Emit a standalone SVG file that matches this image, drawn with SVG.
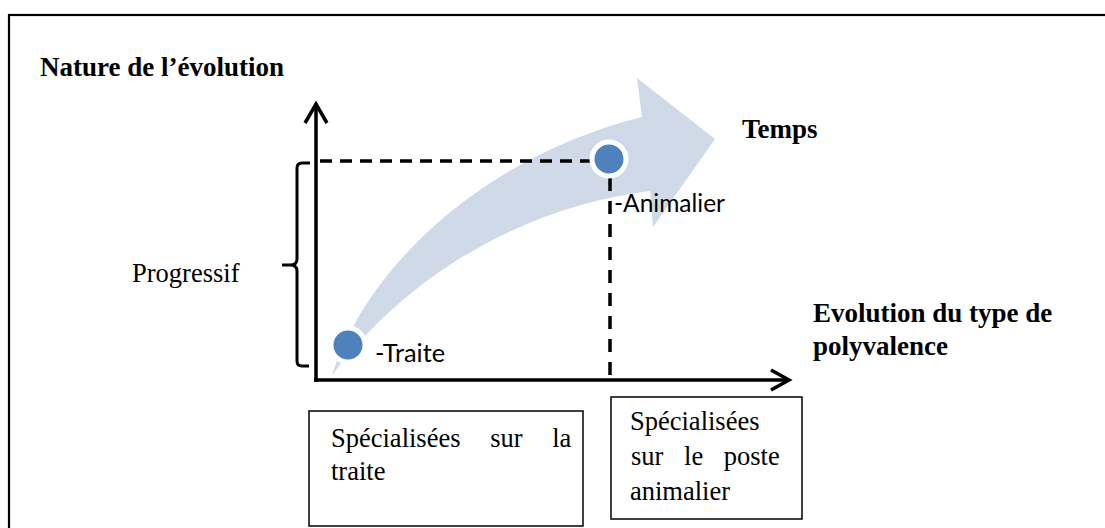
<svg xmlns="http://www.w3.org/2000/svg" width="1105" height="528" viewBox="0 0 1105 528">
<style>
.serif{font-family:"Liberation Serif","Times New Roman",serif;font-size:26.5px;fill:#000}
.bold{font-weight:bold;font-size:27px}
.sans{font-family:Lato,"Open Sans",sans-serif;font-size:25px;fill:#000}
.axis{stroke:#000;stroke-width:3.5;fill:none}
.dash{stroke:#000;stroke-width:3.5;fill:none}
.box{fill:#fff;stroke:#000;stroke-width:1.5}
.dot{fill:#4F81BD;stroke:#fff;stroke-width:5}
</style>
<rect x="0" y="0" width="1105" height="528" fill="#fff"/>
<rect id="frame" x="9" y="15" width="1120" height="560" fill="none" stroke="#000" stroke-width="2.2"/>
<g id="trend-arrow">
<path d="M332 375 C370 260 490 155 642 117 L637 78 L715 139 L653 227 L650 191 C540 205 420 260 332 375 Z" fill="#D0D9E8"/>
</g>
<g id="connectors">
<path class="axis" d="M316 382 L316 105"/>
<path class="axis" d="M305 123 L316 104 L327 123"/>
<path class="axis" d="M314 380 L788 380"/>
<path class="axis" d="M771 370 L789 380 L771 390"/>
<path class="dash" d="M320 161 L592 161" stroke-dasharray="12 8"/>
<path class="dash" d="M610 178 L610 380" stroke-dasharray="13 10"/>
<path d="M310 163 L302 163 Q297 163 297 168 L297 259 Q297 265 290 265 L282 265 M290 265 Q297 265 297 271 L297 361 Q297 366 302 366 L309 366" fill="none" stroke="#000" stroke-width="3"/>
</g>
<g id="axis-y-label"><text class="serif bold" x="40" y="76">Nature de l’évolution</text></g>
<g id="temps-label"><text class="serif bold" x="742" y="138">Temps</text></g>
<g id="axis-x-label">
<text class="serif bold" x="813" y="322">Evolution du type de</text>
<text class="serif bold" x="813" y="355">polyvalence</text>
</g>
<g id="progressif"><text class="serif" x="132" y="282">Progressif</text></g>
<g id="point-traite">
<circle class="dot" cx="348" cy="345" r="17"/>
<text class="sans" x="375" y="362" textLength="70" lengthAdjust="spacingAndGlyphs">-Traite</text>
</g>
<g id="point-animalier">
<circle class="dot" cx="609" cy="159" r="17"/>
<text class="sans" x="614" y="212" textLength="111" lengthAdjust="spacingAndGlyphs">-Animalier</text>
</g>
<g id="box-traite">
<rect class="box" x="309" y="411" width="274" height="115"/>
<text class="serif" x="331" y="447" word-spacing="23">Spécialisées sur la</text>
<text class="serif" x="331" y="480">traite</text>
</g>
<g id="box-animalier">
<rect class="box" x="611" y="397" width="191" height="122"/>
<text class="serif" x="630" y="430">Spécialisées</text>
<text class="serif" x="631" y="465" word-spacing="14">sur le poste</text>
<text class="serif" x="630" y="500">animalier</text>
</g>
</svg>
